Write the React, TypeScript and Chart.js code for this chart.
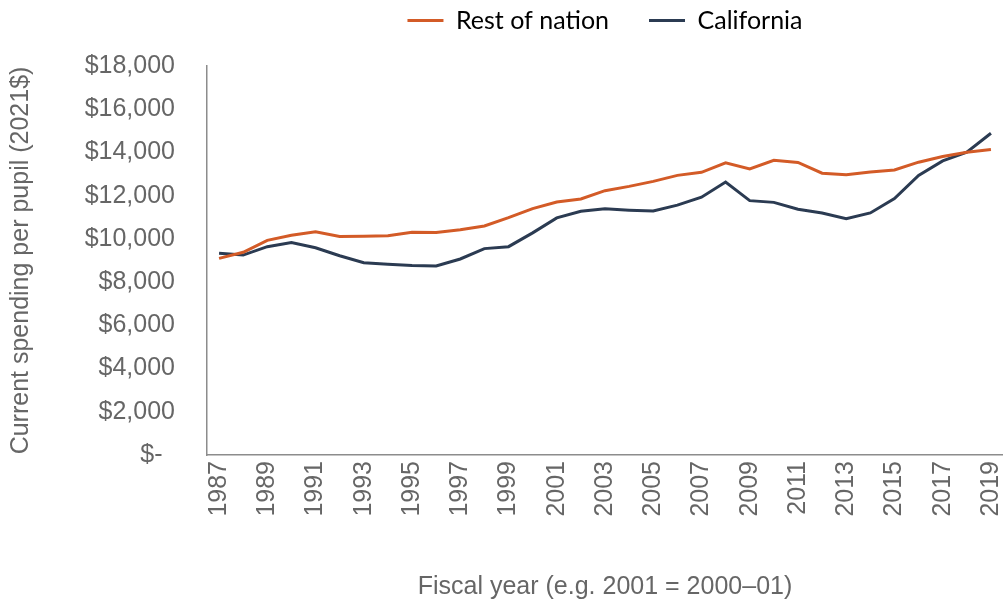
import React, { useEffect, useRef } from "react";
import { Chart, registerables } from "chart.js";

Chart.register(...registerables);

const years = [
  "1987", "1988", "1989", "1990", "1991", "1992", "1993", "1994", "1995", "1996",
  "1997", "1998", "1999", "2000", "2001", "2002", "2003", "2004", "2005", "2006",
  "2007", "2008", "2009", "2010", "2011", "2012", "2013", "2014", "2015", "2016",
  "2017", "2018", "2019",
];

const restOfNation = [
  9100, 9380, 9930, 10170, 10330, 10110, 10120, 10150, 10310, 10300,
  10420, 10600, 10980, 11400, 11710, 11850, 12230, 12430, 12660, 12940,
  13080, 13520, 13240, 13640, 13540, 13040, 12970, 13090, 13190, 13550,
  13810, 14010, 14140,
];

const california = [
  9330, 9250, 9640, 9830, 9590, 9220, 8900, 8830, 8770, 8750,
  9070, 9550, 9640, 10280, 10970, 11280, 11390, 11330, 11290, 11560,
  11930, 12630, 11770, 11690, 11370, 11200, 10930, 11200, 11870, 12940,
  13610, 14010, 14890,
];

const seriesNames = ["Rest of nation", "California"];
const yTitle = "Current spending per pupil (2021$)";
const xTitle = "Fiscal year (e.g. 2001 = 2000\u201301)";

const ORANGE = "#D35B27";
const NAVY = "#2B3B52";
const TICK_GRAY = "#666666";
const AXIS_GRAY = "#8c8c8c";
const FONT = "'Liberation Sans', Arial, sans-serif";

const legendShift = {
  id: "legendShift",
  afterLayout(chart: any) {
    const lg = chart.legend;
    if (!lg) return;
    lg.left = chart.chartArea.left;
    lg.right = chart.chartArea.right;
    lg.top = -32;
    lg.bottom = 60;
  },
};

export default function App() {
  const ref = useRef<HTMLCanvasElement | null>(null);

  useEffect(() => {
    if (!ref.current) return;
    const chart = new Chart(ref.current, {
      type: "line",
      data: {
        labels: years,
        datasets: [
          {
            label: seriesNames[0],
            data: restOfNation,
            borderColor: ORANGE,
            backgroundColor: ORANGE,
            borderWidth: 3,
            pointRadius: 0,
            tension: 0,
          },
          {
            label: seriesNames[1],
            data: california,
            borderColor: NAVY,
            backgroundColor: NAVY,
            borderWidth: 3,
            pointRadius: 0,
            tension: 0,
          },
        ],
      },
      options: {
        responsive: false,
        animation: false,
        layout: { padding: { top: 16, left: 0, right: 0, bottom: 0 } },
        plugins: {
          tooltip: { enabled: false },
          legend: {
            display: true,
            position: "top",
            maxHeight: 50,
            labels: {
              boxWidth: 36,
              boxHeight: 3,
              padding: 40,
              color: "#222222",
              font: { family: "Lato, 'Liberation Sans', sans-serif", size: 25 },
              generateLabels: (c: any) =>
                c.data.datasets.map((d: any, i: number) => ({
                  text: d.label,
                  fillStyle: d.borderColor,
                  strokeStyle: d.borderColor,
                  lineWidth: 0,
                  hidden: false,
                  datasetIndex: i,
                })),
            },
          },
        },
        scales: {
          x: {
            type: "category",
            offset: true,
            grid: { display: false, drawTicks: false },
            border: { display: true, color: AXIS_GRAY, width: 1.5 },
            ticks: {
              autoSkip: false,
              maxRotation: 90,
              minRotation: 90,
              padding: 6,
              color: TICK_GRAY,
              font: { family: FONT, size: 25 },
              callback: (_v: any, i: number) => (i % 2 === 0 ? years[i] : null),
            },
            title: {
              display: true,
              text: xTitle,
              color: TICK_GRAY,
              font: { family: FONT, size: 25 },
              padding: { top: 0, bottom: 2 },
            },
            afterFit: (s: any) => {
              s.height = 149;
              s.paddingLeft = 0;
              s.paddingRight = 0;
            },
          },
          y: {
            min: 0,
            max: 18000,
            grid: { display: false, drawTicks: false },
            border: { display: true, color: AXIS_GRAY, width: 1.5 },
            ticks: {
              stepSize: 2000,
              padding: 32,
              color: TICK_GRAY,
              font: { family: FONT, size: 25 },
              callback: (v: any) =>
                Number(v) === 0 ? "$-\u2002" : "$" + Number(v).toLocaleString("en-US"),
            },
            title: {
              display: true,
              text: yTitle,
              color: TICK_GRAY,
              font: { family: FONT, size: 25 },
              padding: { top: 6, bottom: 0 },
            },
            afterFit: (s: any) => {
              s.width = 207;
            },
          },
        },
      },
      plugins: [legendShift],
    });
    return () => chart.destroy();
  }, []);

  return (
    <div style={{ position: "absolute", left: 0, top: 0, width: 1003, height: 604 }}>
      <canvas ref={ref} width={1003} height={604} style={{ display: "block" }} />
    </div>
  );
}
